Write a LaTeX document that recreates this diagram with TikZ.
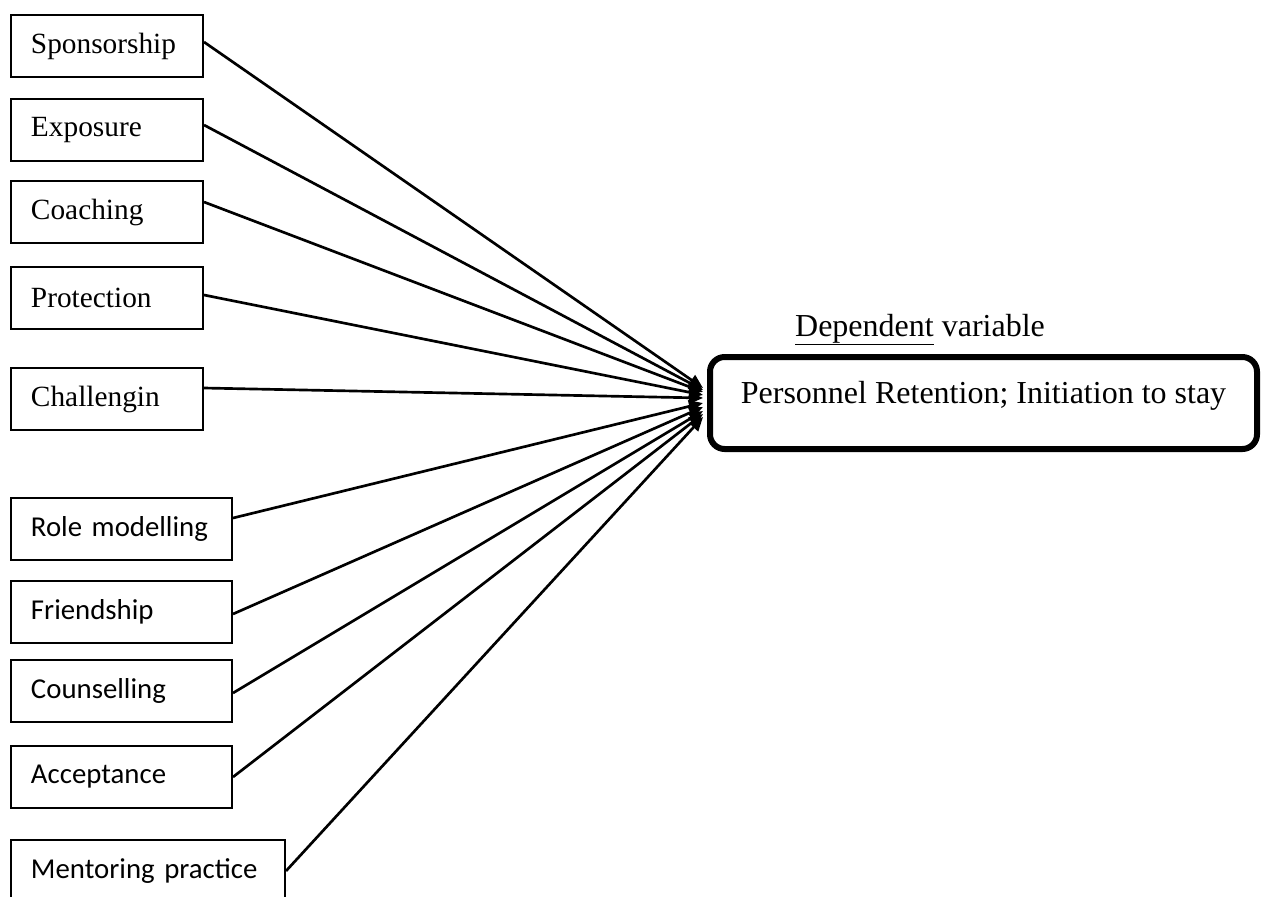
\documentclass[tikz,border=0pt]{standalone}
\usepackage{fontspec}
\setmainfont{Liberation Serif}
\newfontfamily\carlito{Carlito}
\usetikzlibrary{arrows.meta}

\begin{document}
\begin{tikzpicture}[x = .75pt, y = -.75pt, line width = 1.5pt,
factor/.style = {draw, anchor = west, minimum height = 46.5pt, inner xsep = 15pt, align = left, font = \fontsize{22}{26}\selectfont},
upper/.style = {factor, text width = 114pt},
lower/.style = {factor, text width = 135.75pt, font = \carlito\fontsize{21.6}{26}\selectfont},
link/.style = {line width = 2pt, -{Triangle[length = 10.5pt, width = 9pt]}},
resbox/.style = {draw, line width = 4.5pt, rounded corners = 11pt, minimum width = 410.25pt, minimum height = 69pt, text height = 12pt, text depth = 12pt, font = \fontsize{24}{28}\selectfont}]
\useasboundingbox (0,0) rectangle (1262,896);
\node[upper] (spon) at (10,46) {Sponsorship};
\node[upper] (expo) at (10,130) {Exposure};
\node[upper] (coach) at (10,212) {Coaching};
\node[upper] (prot) at (10,298) {Protection};
\node[upper] (chal) at (10,399) {Challengin};
\node[lower] (role) at (10,529) {Role modelling};
\node[lower] (friend) at (10,612) {Friendship};
\node[lower] (couns) at (10,691) {Counselling};
\node[lower] (accept) at (10,777) {Acceptance};
\node[lower, text width = 175.5pt] (mentor) at (10,871) {Mentoring practice};
\node[resbox] (res) at (983.5,403) {Personnel Retention; Initiation to stay};
\node[anchor = base, font = \fontsize{24}{28}\selectfont] (dep) at (920,336) {\underline{Dependent} variable};
\coordinate (hub) at (703,400);
\foreach \n/\dy/\ey in {spon/3/9, expo/3.75/7.5, coach/7.5/6, prot/2.25/3.75, chal/8.25/1.5, role/8.25/-2.25, friend/-1.5/-5.25, couns/-1.5/-8.25, accept/0/-10.5, mentor/0/-12.75} {
\draw[link] ([yshift = \dy pt]\n.east) -- ([yshift = \ey pt]hub);
}
\end{tikzpicture}
\end{document}
